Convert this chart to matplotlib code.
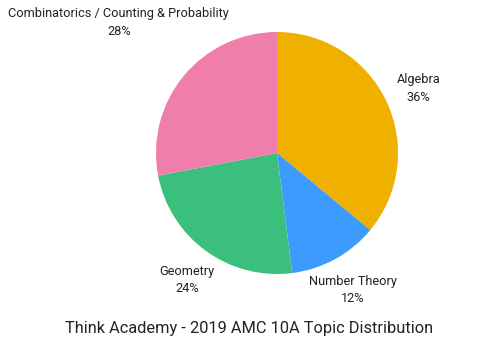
import numpy as np
import matplotlib
matplotlib.use("Agg")
import matplotlib.pyplot as plt

categories = ["Algebra", "Number Theory", "Geometry", "Combinatorics / Counting & Probability"]
values = [36, 12, 24, 28]
colors = ["#EFB000", "#3D9BFD", "#3BBF7C", "#EF7EAA"]
title = "Think Academy - 2019 AMC 10A Topic Distribution"

plt.rcParams['font.family'] = ['Roboto', 'DejaVu Sans']

W, H = 483, 342
fig = plt.figure(figsize=(W / 100, H / 100), dpi=100)
cx, cy, R = 277, 153, 121
ax = fig.add_axes([(cx - R) / W, (H - cy - R) / H, 2 * R / W, 2 * R / H])
wedges, _ = ax.pie(values, colors=colors, startangle=90, counterclock=False,
                   radius=1, wedgeprops=dict(linewidth=0))
ax.set_xlim(-1, 1)
ax.set_ylim(-1, 1)
ax.set_aspect('equal')
ax.axis('off')

total = sum(values)
for w, name, v in zip(wedges, categories, values):
    ang = np.deg2rad((w.theta1 + w.theta2) / 2)
    d = 1.71 if len(name) > 20 else 1.28
    x = d * np.cos(ang) + 0.01
    y = d * np.sin(ang) - 0.012
    ax.text(x, y, f"{name}\n{round(100 * v / total)}%",
            ha='center', va='center', multialignment='center', fontsize=9.2,
            color='#222222', linespacing=1.42, clip_on=False)

fig.text(249 / W, 1 - 329 / H, title, ha='center', va='center', fontsize=11.75, color='#222222')
fig.savefig("out.png", dpi=100)
